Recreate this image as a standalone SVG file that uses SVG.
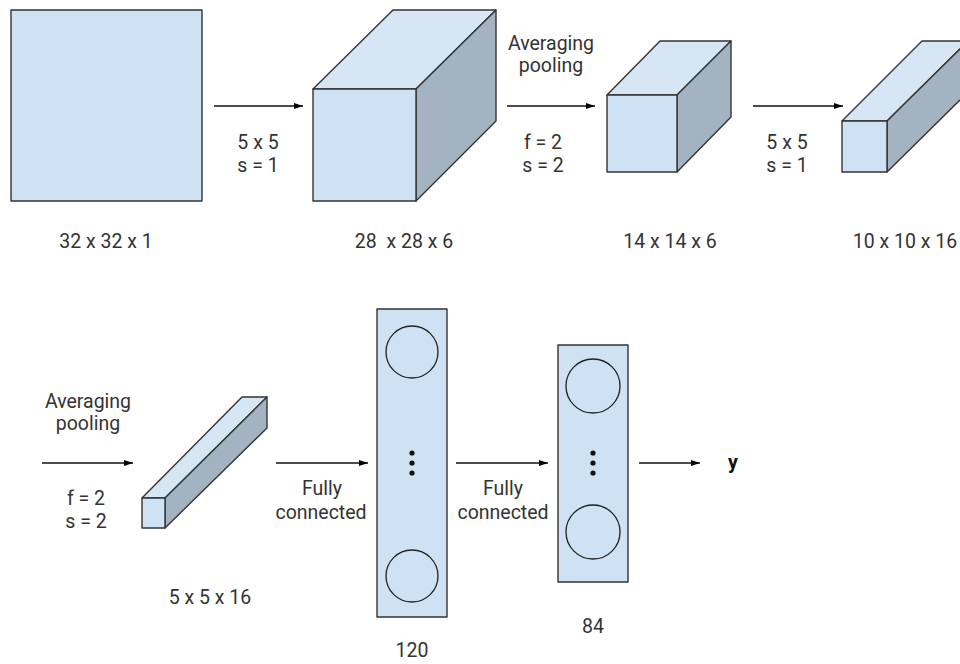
<svg xmlns="http://www.w3.org/2000/svg" width="960" height="664" viewBox="0 0 960 664">
  <defs>
    <marker id="arrow" markerWidth="9" markerHeight="6" refX="9" refY="3" orient="auto" markerUnits="userSpaceOnUse">
      <path d="M0,0 L9,3 L0,6 Z" fill="#000"/>
    </marker>
    <style>
      .front { fill: #cfe2f3; stroke: #333; stroke-width: 1.4; stroke-linejoin: round; }
      .top { fill: #d6e6f5; stroke: #333; stroke-width: 1.4; stroke-linejoin: round; }
      .side { fill: #a3b3c2; stroke: #333; stroke-width: 1.4; stroke-linejoin: round; }
      .neuron { fill: none; stroke: #222; stroke-width: 1.3; }
      .dot { fill: #111; }
      .link { stroke: #111; stroke-width: 1.3; fill: none; marker-end: url(#arrow); }
      text { font-family: Roboto, "Liberation Sans", sans-serif; font-size: 19.5px; fill: #333; text-anchor: middle; white-space: pre; }
      .out { font-weight: bold; fill: #111; }
    </style>
  </defs>
  <rect width="960" height="664" fill="#fff"/>

  <!-- input image -->
  <g id="input">
    <rect class="front" x="11" y="10" width="191" height="191"/>
    <text x="106" y="248">32 x 32 x 1</text>
  </g>

  <!-- conv 1 volume -->
  <g id="conv1">
    <polygon class="top" points="313,89 393,10 496,10 416,89"/>
    <polygon class="side" points="416,89 496,10 496,121 416,201"/>
    <rect class="front" x="313" y="89" width="103" height="112"/>
    <text x="404" y="248" xml:space="preserve">28  x 28 x 6</text>
  </g>

  <!-- pool 1 volume -->
  <g id="pool1">
    <polygon class="top" points="607,95 660,41 731,41 677,95"/>
    <polygon class="side" points="677,95 731,41 731,117 677,172"/>
    <rect class="front" x="607" y="95" width="70" height="77"/>
    <text x="670" y="248">14 x 14 x 6</text>
  </g>

  <!-- conv 2 volume -->
  <g id="conv2">
    <polygon class="top" points="842,121 922,41 968,41 887,121"/>
    <polygon class="side" points="887,121 968,41 968,92 887,172"/>
    <rect class="front" x="842" y="121" width="45" height="51"/>
    <text x="905" y="248">10 x 10 x 16</text>
  </g>

  <!-- pool 2 volume -->
  <g id="pool2">
    <polygon class="top" points="142,498 242,397 267,397 165,498"/>
    <polygon class="side" points="165,498 267,397 267,428 165,528"/>
    <rect class="front" x="142" y="498" width="23" height="30"/>
    <text x="210" y="604">5 x 5 x 16</text>
  </g>

  <!-- fully connected layer, 120 units -->
  <g id="fc120">
    <rect class="front" x="377" y="309" width="70" height="308"/>
    <circle class="neuron" cx="412" cy="352" r="26"/>
    <circle class="neuron" cx="412" cy="576" r="26"/>
    <circle class="dot" cx="412" cy="453" r="2.6"/>
    <circle class="dot" cx="412" cy="463" r="2.6"/>
    <circle class="dot" cx="412" cy="473" r="2.6"/>
    <text x="412" y="657">120</text>
  </g>

  <!-- fully connected layer, 84 units -->
  <g id="fc84">
    <rect class="front" x="558" y="345" width="70" height="237"/>
    <circle class="neuron" cx="593" cy="386" r="27"/>
    <circle class="neuron" cx="593" cy="532" r="27"/>
    <circle class="dot" cx="593" cy="453" r="2.6"/>
    <circle class="dot" cx="593" cy="463" r="2.6"/>
    <circle class="dot" cx="593" cy="473" r="2.6"/>
    <text x="593" y="633">84</text>
  </g>

  <!-- output -->
  <g id="output">
    <text class="out" x="733" y="469">y</text>
  </g>

  <!-- connectors and their labels -->
  <g id="connectors">
    <line class="link" x1="214" y1="106" x2="303" y2="106"/>
    <text x="258" y="149">5 x 5</text>
    <text x="258" y="172">s = 1</text>

    <line class="link" x1="507" y1="106" x2="595" y2="106"/>
    <text x="551" y="50">Averaging</text>
    <text x="551" y="72">pooling</text>
    <text x="543" y="149">f = 2</text>
    <text x="543" y="172">s = 2</text>

    <line class="link" x1="753" y1="106" x2="843" y2="106"/>
    <text x="787" y="149">5 x 5</text>
    <text x="787" y="172">s = 1</text>

    <line class="link" x1="42" y1="463" x2="133" y2="463"/>
    <text x="88" y="408">Averaging</text>
    <text x="88" y="430">pooling</text>
    <text x="86" y="505">f = 2</text>
    <text x="86" y="528">s = 2</text>

    <line class="link" x1="276" y1="463" x2="368" y2="463"/>
    <text x="322" y="495">Fully</text>
    <text x="321" y="519">connected</text>

    <line class="link" x1="456" y1="463" x2="548" y2="463"/>
    <text x="503" y="495">Fully</text>
    <text x="503" y="519">connected</text>

    <line class="link" x1="639" y1="463" x2="700" y2="463"/>
  </g>
</svg>
